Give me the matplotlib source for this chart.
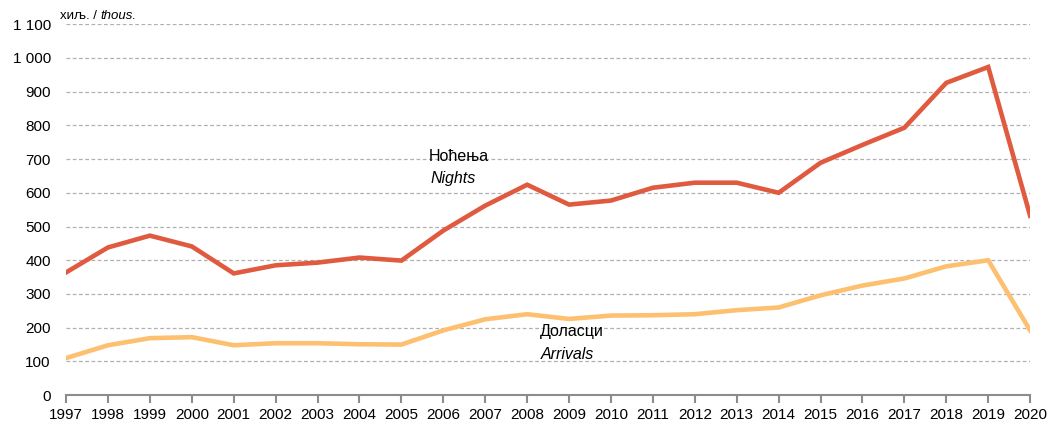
import matplotlib
matplotlib.use("Agg")
import matplotlib.pyplot as plt
from matplotlib.ticker import FuncFormatter
from matplotlib.transforms import offset_copy

years = list(range(1997, 2021))
nights = [364, 438, 473, 441, 361, 385, 393, 408, 399, 488, 562, 624, 565, 577,
          615, 630, 630, 600, 689, 742, 793, 926, 973, 532]
arrivals = [110, 148, 169, 172, 148, 154, 154, 151, 150, 192, 225, 240, 226, 236,
            237, 240, 252, 260, 296, 325, 346, 382, 400, 192]

plt.rcParams["font.family"] = ["Liberation Sans", "DejaVu Sans"]

fig = plt.figure(figsize=(10.49, 4.24), dpi=100)
ax = fig.add_axes([0.063, 0.068, 0.919, 0.875])

ax.plot(years, nights, color="#E05A40", lw=3.3, solid_joinstyle="miter", zorder=3)
ax.plot(years, arrivals, color="#FDC070", lw=3.3, solid_joinstyle="miter", zorder=3)

ax.set_xlim(1997, 2020)
ax.set_ylim(0, 1100)
ax.set_xticks(years)
ax.set_yticks(range(0, 1101, 100))
ax.yaxis.set_major_formatter(FuncFormatter(lambda v, p: f"{int(v):,}".replace(",", " ")))
ax.grid(axis="y", color="#b0b0b0", ls=(0, (3, 2)), lw=0.9)
ax.grid(axis="x", visible=False)
for s in ["left", "right", "top"]:
    ax.spines[s].set_visible(False)
ax.spines["bottom"].set_color("#8c8c8c")
ax.spines["bottom"].set_linewidth(1.5)
ax.tick_params(axis="x", direction="out", length=6, width=1.5, color="#8c8c8c",
               labelsize=11, pad=3)
ax.tick_params(axis="y", length=0, labelsize=11, pad=11)
ax.set_axisbelow(True)

ax.text(2005.65, 708, "Ноћења", fontsize=11.5, va="center")
ax.text(2005.7, 642, "Nights", fontsize=11.5, style="italic", va="center")
ax.text(2008.3, 188, "Доласци", fontsize=11.5, va="center")
ax.text(2008.33, 120, "Arrivals", fontsize=11.5, style="italic", va="center")

# unit label: upright Cyrillic followed by italic English
t1 = fig.text(0.057, 0.962, "хиљ. / ", fontsize=9.5, va="center")
fig.canvas.draw()
w = t1.get_window_extent().width
fig.text(0.057, 0.962, "thous.", fontsize=9.5, style="italic", va="center",
         transform=offset_copy(fig.transFigure, fig=fig, x=w, y=0, units="dots"))

fig.savefig("out.png", dpi=100)
